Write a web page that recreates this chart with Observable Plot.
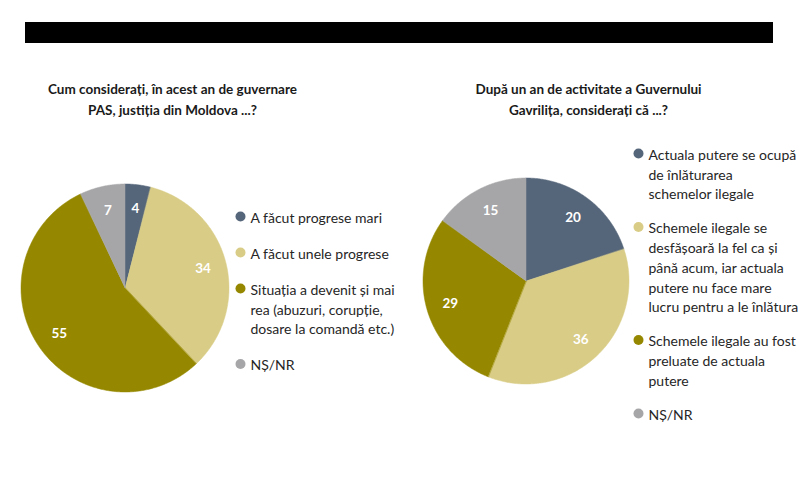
<!DOCTYPE html>
<html><head><meta charset="utf-8">
<script src="https://cdn.jsdelivr.net/npm/d3@7"></script>
<script src="https://cdn.jsdelivr.net/npm/@observablehq/plot@0.6"></script>
<style>
body{margin:0;background:#fff;}
#wrap{position:relative;width:800px;height:498px;}
#bar{position:absolute;left:25px;top:22px;width:748px;height:21px;background:#000;}
</style>
</head><body><div id="wrap"></div>
<script>
const colors = ["#56667a", "#d9cc86", "#958800", "#a6a6a8"];

const leftTitle = "Cum considerați, în acest an de guvernare\nPAS, justiția din Moldova ...?";
const leftCategories = [
  "A făcut progrese mari",
  "A făcut unele progrese",
  "Situația a devenit și mai\nrea (abuzuri, corupție,\ndosare la comandă etc.)",
  "NȘ/NR"
];
const leftValues = [4, 34, 55, 7];

const rightTitle = "După un an de activitate a Guvernului\nGavrilița, considerați că ...?";
const rightCategories = [
  "Actuala putere se ocupă\nde înlăturarea\nschemelor ilegale",
  "Schemele ilegale se\ndesfășoară la fel ca și\npână acum, iar actuala\nputere nu face mare\nlucru pentru a le înlătura",
  "Schemele ilegale au fost\npreluate de actuala\nputere",
  "NȘ/NR"
];
const rightValues = [20, 36, 29, 15];

// layout
const pies = [
  {id: "L", title: leftTitle, cats: leftCategories, vals: leftValues, cx: 125, cy: 288, r: 104, tx: 172, legX: 240, legY: 216, gap: 36},
  {id: "R", title: rightTitle, cats: rightCategories, vals: rightValues, cx: 526, cy: 281, r: 103, tx: 588, legX: 638, legY: 153, gap: 34}
];
const LH = 19.76, FS = 14;

const wedges = [], labels = [], legend = [], titles = [];
for (const p of pies) {
  const arcs = d3.pie().sort(null).value(d => d)(p.vals);
  arcs.forEach((a, i) => {
    const n = Math.max(2, Math.ceil((a.endAngle - a.startAngle) / 0.01));
    for (let k = 0; k <= n; k++) {
      const t = a.startAngle + (a.endAngle - a.startAngle) * k / n;
      wedges.push({key: p.id + i, color: colors[i], x1: p.cx + p.r * Math.sin(t), y1: p.cy - p.r * Math.cos(t), x2: p.cx, y2: p.cy});
    }
    const m = (a.startAngle + a.endAngle) / 2;
    labels.push({x: p.cx + 0.77 * p.r * Math.sin(m), y: p.cy - 0.77 * p.r * Math.cos(m), text: String(p.vals[i])});
  });
  let y = p.legY;
  p.cats.forEach((c, i) => {
    const nl = c.split("\n").length;
    legend.push({x: p.legX, y, ty: y + (nl - 1) * LH / 2, text: c, color: colors[i]});
    y += (nl - 1) * LH + p.gap;
  });
  titles.push({x: p.tx, y: 97.5, text: p.title});
}

const chart = Plot.plot({
  width: 800, height: 498, margin: 0,
  style: {fontFamily: "Lato, sans-serif", background: "#fff"},
  x: {domain: [0, 800], range: [0, 800], axis: null},
  y: {domain: [0, 498], range: [0, 498], axis: null},
  color: {type: "identity"},
  marks: [
    Plot.area(wedges, {x1: "x1", y1: "y1", x2: "x2", y2: "y2", z: "key", fill: "color", stroke: "color", strokeWidth: 0.5}),
    Plot.text(labels, {x: "x", y: "y", text: "text", fill: "#fff", fontWeight: "bold", fontSize: 13.5}),
    Plot.text(titles, {x: "x", y: "y", text: "text", fill: "#1a1a1a", fontWeight: "bold", fontSize: 13.5, lineHeight: 21 / 13.5, lineAnchor: "middle"}),
    Plot.dot(legend, {x: "x", y: "y", r: 5, fill: "color"}),
    Plot.text(legend, {x: d => d.x + 10, y: "ty", text: "text", fill: "#262626", fontSize: FS, lineHeight: LH / FS, textAnchor: "start", lineAnchor: "middle"})
  ]
});
const wrap = document.getElementById("wrap");
wrap.appendChild(chart);
const bar = document.createElement("div");
bar.id = "bar";
wrap.appendChild(bar);
</script>
</body></html>
